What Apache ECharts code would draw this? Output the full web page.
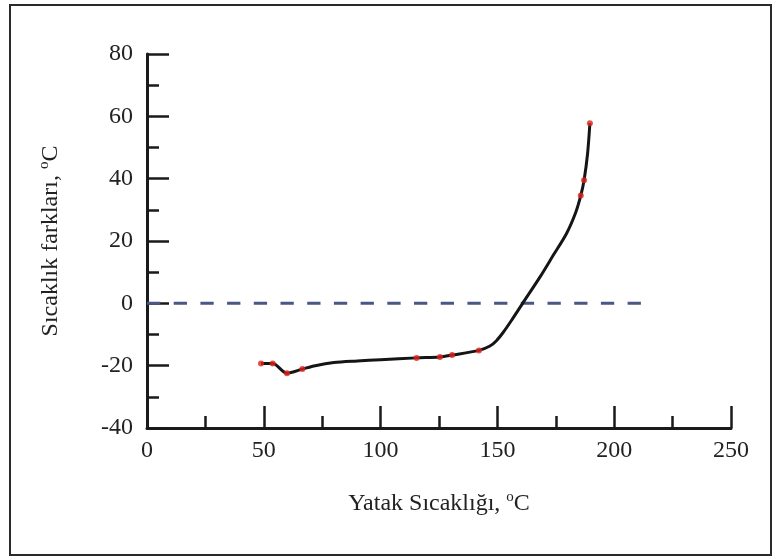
<!DOCTYPE html>
<html>
<head>
<meta charset="utf-8">
<script src="https://cdn.jsdelivr.net/npm/echarts@6/dist/echarts.min.js"></script>
<style>
  html, body { margin: 0; padding: 0; background: #fff; }
  #chart { width: 775px; height: 559px; }
</style>
</head>
<body>
<div id="chart"></div>
<script>
// egri (siyah cizgi)
const curveX = [48.8, 53.8, 59.9, 66.5, 72, 80, 90, 100, 115.4, 125.4, 130.6, 142.1, 146.8, 149.7, 152.6, 156, 160.8, 168.2, 173.9, 179.6, 183.6, 185.7, 187.1, 188.6, 189.6];
const curveY = [-19.3, -19.3, -22.4, -21.1, -20, -19, -18.5, -18.1, -17.5, -17.2, -16.6, -15.1, -13.7, -11.9, -9.2, -5.5, 0, 8.4, 15.4, 22.4, 29.3, 34.6, 39.5, 48, 57.8];
// olcum noktalari (kirmizi)
const dotX = [48.8, 53.8, 59.9, 66.5, 115.4, 125.4, 130.6, 142.1, 185.7, 187.1, 189.6];
const dotY = [-19.3, -19.3, -22.4, -21.1, -17.5, -17.2, -16.6, -15.1, 34.6, 39.5, 57.8];
// sifir cizgisi
const zeroX = [0, 212];
const zeroY = [0, 0];

const pairs = (xs, ys) => xs.map((x, i) => [x, ys[i]]);

const font = "'Liberation Serif', 'DejaVu Serif', serif";
const supRich = {
  n: { fontFamily: font, fontSize: 24, color: '#222', lineHeight: 28 },
  sup: { fontFamily: font, fontSize: 15, color: '#222', verticalAlign: 'top', lineHeight: 28, padding: [0, 0, 10, 0] }
};

const chart = echarts.init(document.getElementById('chart'));
chart.setOption({
  animation: false,
  backgroundColor: '#fff',
  grid: { left: 147, top: 54, right: 44, bottom: 131 },
  graphic: [{
    type: 'rect',
    shape: { x: 10, y: 5, width: 761, height: 550 },
    style: { fill: 'none', stroke: '#2a2a2a', lineWidth: 2 }
  }],
  xAxis: {
    type: 'value',
    min: 0, max: 250, interval: 50,
    name: '{n|Yatak Sıcaklığı, }{sup|o}{n|C}',
    nameLocation: 'middle',
    nameGap: 62,
    nameTextStyle: { rich: supRich },
    axisLine: { onZero: false, lineStyle: { color: '#1a1a1a', width: 3 } },
    axisTick: { inside: true, length: 22, lineStyle: { color: '#1a1a1a', width: 2.5 } },
    minorTick: { show: true, splitNumber: 2, length: 12, lineStyle: { color: '#1a1a1a', width: 2.5 } },
    axisLabel: { fontFamily: font, fontSize: 24, color: '#222', margin: 11 },
    splitLine: { show: false }
  },
  yAxis: {
    type: 'value',
    min: -40, max: 80, interval: 20,
    name: '{n|Sıcaklık farkları, }{sup|o}{n|C}',
    nameLocation: 'middle',
    nameGap: 82,
    nameTextStyle: { rich: supRich },
    axisLine: { onZero: false, lineStyle: { color: '#1a1a1a', width: 3 } },
    axisTick: { inside: true, length: 22, lineStyle: { color: '#1a1a1a', width: 2.5 } },
    minorTick: { show: true, splitNumber: 2, length: 12, lineStyle: { color: '#1a1a1a', width: 2.5 } },
    axisLabel: { fontFamily: font, fontSize: 24, color: '#222', margin: 14 },
    splitLine: { show: false }
  },
  series: [
    {
      type: 'line',
      data: pairs(zeroX, zeroY),
      showSymbol: false,
      lineStyle: { color: '#4a5783', width: 3, type: [13.3, 13.4] },
      z: 1
    },
    {
      type: 'line',
      data: pairs(curveX, curveY),
      smooth: 0.3,
      showSymbol: false,
      lineStyle: { color: '#151515', width: 3 },
      z: 2
    },
    {
      type: 'scatter',
      data: pairs(dotX, dotY),
      symbolSize: 6,
      itemStyle: { color: '#e0231c' },
      z: 3
    }
  ]
});
</script>
</body>
</html>
